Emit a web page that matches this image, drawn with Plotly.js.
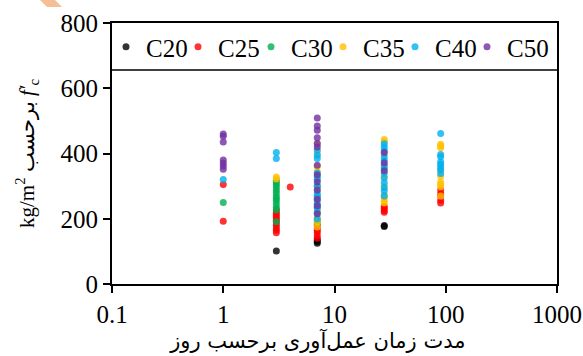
<!DOCTYPE html>
<html>
<head>
<meta charset="utf-8">
<script src="https://cdn.plot.ly/plotly-3.0.1.min.js"></script>
<style>html,body{margin:0;padding:0;background:#fff;}#chart{width:583px;height:356px;}</style>
</head>
<body>
<div id="chart"></div>
<script>
// Series names and colours
const seriesNames = ['C20', 'C25', 'C30', 'C35', 'C40', 'C50'];
const seriesColors = ['#000000', '#FF0000', '#00B050', '#FFC000', '#00B0F0', '#7030A0'];

// Curing age (days) and compressive strength (kg/m2) per series
const c20Days = [3, 7, 7, 7, 28, 28];
const c20Vals = [101, 125, 130, 135, 176, 179];

const c25Days = [1, 1, 3, 3, 3, 3, 3, 3, 3, 3, 3, 3, 3, 4, 7, 7, 7, 7, 7, 7, 28, 28, 28, 28, 90, 90, 90, 90, 90];
const c25Vals = [192, 305, 157, 165, 172, 180, 188, 195, 200, 207, 213, 220, 227, 297, 140, 148, 158, 165, 172, 180, 220, 225, 232, 238, 248, 257, 270, 277, 288];

const c30Days = [1, 3, 3, 3, 3, 3, 3, 3, 3, 3, 3, 3, 3, 3, 7, 7, 7, 7, 7];
const c30Vals = [250, 191, 227, 235, 245, 255, 262, 270, 280, 288, 297, 305, 313, 318, 187, 195, 235, 270, 300];

const c35Days = [3, 3, 7, 7, 7, 7, 7, 7, 7, 7, 7, 7, 7, 7, 7, 28, 28, 28, 28, 28, 28, 28, 28, 28, 28, 90, 90, 90, 90, 90, 90, 90, 90, 90];
const c35Vals = [322, 328, 175, 190, 202, 215, 225, 245, 265, 290, 320, 344, 360, 400, 430, 248, 256, 264, 272, 300, 330, 360, 400, 437, 443, 270, 298, 305, 313, 330, 350, 418, 423, 428];

const c40Days = [1, 3, 3, 7, 7, 7, 7, 7, 7, 7, 7, 7, 7, 7, 7, 7, 7, 28, 28, 28, 28, 28, 28, 28, 28, 28, 28, 28, 28, 28, 90, 90, 90, 90, 90, 90, 90, 90];
const c40Vals = [320, 385, 403, 200, 220, 233, 245, 257, 270, 280, 300, 320, 329, 340, 385, 395, 410, 270, 285, 295, 310, 325, 340, 355, 365, 380, 390, 410, 420, 430, 339, 350, 359, 367, 374, 390, 397, 461];

const c50Days = [1, 1, 1, 1, 1, 1, 1, 7, 7, 7, 7, 7, 7, 7, 7, 7, 7, 7, 7, 7, 28, 28, 28];
const c50Vals = [352, 362, 371, 380, 435, 453, 460, 215, 240, 260, 288, 313, 335, 364, 420, 431, 448, 471, 484, 509, 347, 372, 403];

// Axis ticks
const xTickVals = [0.1, 1, 10, 100, 1000];
const xTickText = ['0.1', '1', '10', '100', '1000'];
const yTickVals = [0, 200, 400, 600, 800];

const allDays = [c20Days, c25Days, c30Days, c35Days, c40Days, c50Days];
const allVals = [c20Vals, c25Vals, c30Vals, c35Vals, c40Vals, c50Vals];

const serif = 'Times New Roman, serif';

const W = 583, H = 356;
const L = 112, R = 26, T = 23, B = 72;
const pw = W - L - R, ph = H - T - B;
function px2paperX(px) { return (px - L) / pw; }
function px2paperY(py) { return (H - B - py) / ph; }

// one legend per series, so each entry sits where the reference puts it
const legendIds = seriesNames.map((n, i) => i === 0 ? 'legend' : 'legend' + (i + 1));
const legendLeftPx = [106, 178, 251, 323, 395, 467];

const traces = seriesNames.map((name, i) => ({
  type: 'scatter',
  mode: 'markers',
  name: name,
  legend: legendIds[i],
  x: allDays[i],
  y: allVals[i],
  marker: {color: seriesColors[i], size: 7, opacity: 0.8, line: {width: 0}},
  cliponaxis: false
}));

const layout = {
  width: W,
  height: H,
  margin: {l: L, r: R, t: T, b: B, pad: 0},
  paper_bgcolor: '#ffffff',
  plot_bgcolor: '#ffffff',
  font: {family: serif, color: '#000000', size: 24},
  showlegend: true,
  xaxis: {
    type: 'log',
    range: [-1, 3],
    tickvals: xTickVals,
    ticktext: xTickText,
    ticks: 'outside',
    ticklen: 7,
    tickwidth: 2,
    tickcolor: '#000',
    showline: true,
    linecolor: '#000',
    linewidth: 2,
    mirror: true,
    showgrid: false,
    zeroline: false,
    tickfont: {family: serif, size: 25, color: '#000'},
    title: {
      text: 'مدت زمان عمل‌آوری برحسب روز\u00A0\u00A0\u00A0\u00A0\u00A0\u200B',
      font: {family: 'DejaVu Sans, sans-serif', size: 21, color: '#000'},
      standoff: 2
    }
  },
  yaxis: {
    range: [0, 800],
    tickvals: yTickVals,
    ticks: 'outside',
    ticklen: 7,
    tickwidth: 2,
    tickcolor: '#000',
    showline: true,
    linecolor: '#000',
    linewidth: 2,
    mirror: true,
    showgrid: false,
    zeroline: false,
    tickfont: {family: serif, size: 25, color: '#000'},
    title: {
      text: 'kg/m<sup>2</sup> برحسب <i>f′</i><sub>c</sub>',
      font: {family: serif, size: 21, color: '#000'},
      standoff: 20
    }
  },
  shapes: [
    {type: 'line', xref: 'paper', yref: 'y', x0: 0, x1: 1, y0: 656, y1: 656,
     line: {color: '#000', width: 1.5}},
    {type: 'path', xref: 'paper', yref: 'paper',
     path: 'M ' + px2paperX(40) + ',' + px2paperY(0) + ' L ' + px2paperX(55) + ',' + px2paperY(0) +
           ' L ' + px2paperX(62) + ',' + px2paperY(7) + ' L ' + px2paperX(47) + ',' + px2paperY(7) + ' Z',
     fillcolor: '#F5BE96', line: {width: 0}}
  ]
};

legendIds.forEach((id, i) => {
  layout[id] = {
    orientation: 'h',
    x: px2paperX(legendLeftPx[i]), xanchor: 'left',
    y: px2paperY(47), yanchor: 'middle',
    bgcolor: 'rgba(0,0,0,0)',
    borderwidth: 0,
    font: {family: serif, size: 25, color: '#000000'},
    itemwidth: 30
  };
});

Plotly.newPlot('chart', traces, layout, {staticPlot: true, displayModeBar: false});
</script>
</body>
</html>
